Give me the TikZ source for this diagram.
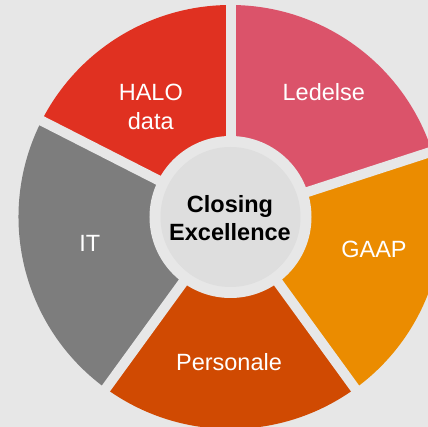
\documentclass[tikz,border=0pt]{standalone}
\usepackage{fontspec}
\setmainfont{Liberation Sans}
\definecolor{bg}{HTML}{E7E7E7}
\definecolor{centerc}{HTML}{DEDEDE}
\definecolor{halo}{HTML}{E03121}
\definecolor{ledelse}{HTML}{DB536A}
\definecolor{gaap}{HTML}{EB8C00}
\definecolor{personale}{HTML}{D04A02}
\definecolor{itgray}{HTML}{7D7D7D}
\tikzset{
  seglabel/.style={anchor=base, inner sep=0pt, text=white, font=\fontsize{23.5}{28}\selectfont},
  centerlabel/.style={anchor=base, inner sep=0pt, text=black, font=\fontsize{23.5}{28}\selectfont\bfseries},
  gapline/.style={draw=bg, line width=10pt}
}
\begin{document}
\begin{tikzpicture}[x=1pt,y=1pt]
\fill[bg] (-230.5,-210) rectangle (197.5,217);
\useasboundingbox (-230.5,-210) rectangle (197.5,217);
\coordinate (c) at (0,0);
% segments
\fill[ledelse]   (c) -- (18:212)  arc[start angle=18,  end angle=90,  radius=212] -- cycle;
\fill[halo]      (c) -- (90:212)  arc[start angle=90,  end angle=153, radius=212] -- cycle;
\fill[itgray]    (c) -- (153:212) arc[start angle=153, end angle=234, radius=212] -- cycle;
\fill[personale] (c) -- (234:212) arc[start angle=234, end angle=306, radius=212] -- cycle;
\fill[gaap]      (c) -- (306:212) arc[start angle=306, end angle=378, radius=212] -- cycle;
% gaps
\coordinate (g1) at (18:240);
\coordinate (g2) at (90:240);
\coordinate (g3) at (153:240);
\coordinate (g4) at (234:240);
\coordinate (g5) at (306:240);
\foreach \g in {g1,g2,g3,g4,g5} \draw[gapline] (c) -- (\g);
% center
\fill[bg] (c) circle (81);
\fill[centerc] (c) circle (70);
% labels
\node[seglabel] (halo1) at (-79.7,116.3) {HALO};
\node[seglabel] (halo2) at (-79.7,87.7) {data};
\node[seglabel] (led) at (93.3,116.3) {Ledelse};
\node[seglabel] (it) at (-140.8,-34.7) {IT};
\node[seglabel] (gaap) at (143.5,-40.7) {GAAP};
\node[seglabel] (pers) at (-1.5,-153.7) {Personale};
\node[centerlabel] (cl1) at (-0.5,4.7) {Closing};
\node[centerlabel] (cl2) at (-0.5,-23.7) {Excellence};
\end{tikzpicture}
\end{document}
